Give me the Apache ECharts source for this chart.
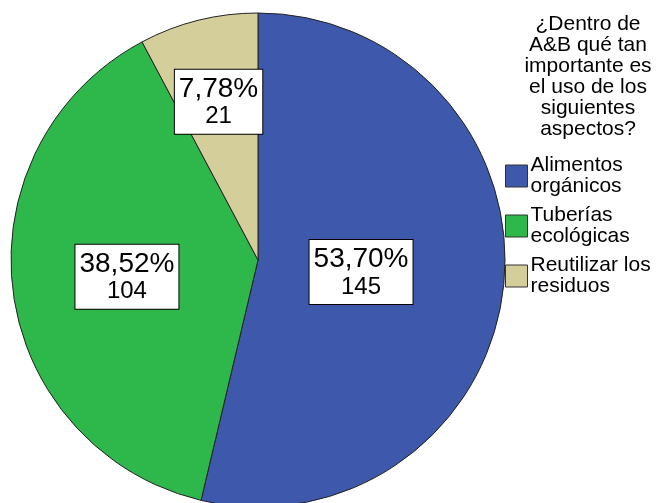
<!DOCTYPE html>
<html>
<head>
<meta charset="utf-8">
<script src="https://cdn.jsdelivr.net/npm/echarts@6/dist/echarts.min.js"></script>
<style>
html,body{margin:0;padding:0;background:#fff;}
#chart{width:659px;height:503px;}
</style>
</head>
<body>
<div id="chart"></div>
<script>
// Data
const categories = ['Alimentos\norgánicos', 'Tuberías\necológicas', 'Reutilizar los\nresiduos'];
const counts = [145, 104, 21];
const colors = ['#3E58AC', '#2EB84B', '#D4CE9A'];
const titleText = '¿Dentro de\nA&B qué tan\nimportante es\nel uso de los\nsiguientes\naspectos?';

// Layout config (not data)
const CENTER = [258, 260];
const RADIUS = 247;
const labelRadiusFrac = [0.42, 0.535, 0.66];

const total = counts.reduce((a, b) => a + b, 0);
const midAngles = [];
let acc = 0;
counts.forEach(v => { midAngles.push((acc + v / 2) / total * 2 * Math.PI); acc += v; });

const chart = echarts.init(document.getElementById('chart'), null, {renderer: 'canvas'});
const FONT = 'Liberation Sans, Arial, sans-serif';
chart.setOption({
  backgroundColor: '#fff',
  animation: false,
  title: {
    text: titleText,
    left: 588,
    top: 14,
    padding: 0,
    textAlign: 'center',
    textStyle: {fontFamily: FONT, fontSize: 21, lineHeight: 21, fontWeight: 'normal', color: '#000'}
  },
  legend: {
    orient: 'vertical',
    left: 505,
    top: 155,
    padding: 0,
    itemWidth: 22,
    itemHeight: 22,
    itemGap: 8,
    icon: 'rect',
    itemStyle: {borderColor: '#333', borderWidth: 1},
    textStyle: {fontFamily: FONT, fontSize: 21, lineHeight: 21, color: '#000', padding: [0, 0, 0, -2]},
    data: categories
  },
  series: [{
    type: 'pie',
    center: CENTER,
    radius: RADIUS,
    startAngle: 90,
    clockwise: true,
    avoidLabelOverlap: false,
    itemStyle: {borderColor: '#222', borderWidth: 1},
    emphasis: {disabled: true},
    label: {
      show: true,
      position: 'inside',
      formatter: p => '{p|' + (p.value / total * 100).toFixed(2).replace('.', ',') + '%}\n{n|' + p.value + '}',
      backgroundColor: '#fff',
      borderColor: '#000',
      borderWidth: 1,
      padding: [4, 4, 4, 4],
      color: '#000',
      fontFamily: FONT,
      rich: {
        p: {fontFamily: FONT, fontSize: 28, lineHeight: 30, color: '#000', align: 'center'},
        n: {fontFamily: FONT, fontSize: 24, lineHeight: 26, color: '#000', align: 'center'}
      }
    },
    labelLine: {show: false},
    labelLayout: function (params) {
      const i = params.dataIndex;
      const r = RADIUS * labelRadiusFrac[i];
      const a = midAngles[i];
      return {
        x: CENTER[0] + r * Math.sin(a),
        y: CENTER[1] - r * Math.cos(a),
        align: 'center',
        verticalAlign: 'middle'
      };
    },
    data: categories.map((c, i) => ({name: c, value: counts[i], itemStyle: {color: colors[i]}}))
  }]
});
</script>
</body>
</html>
